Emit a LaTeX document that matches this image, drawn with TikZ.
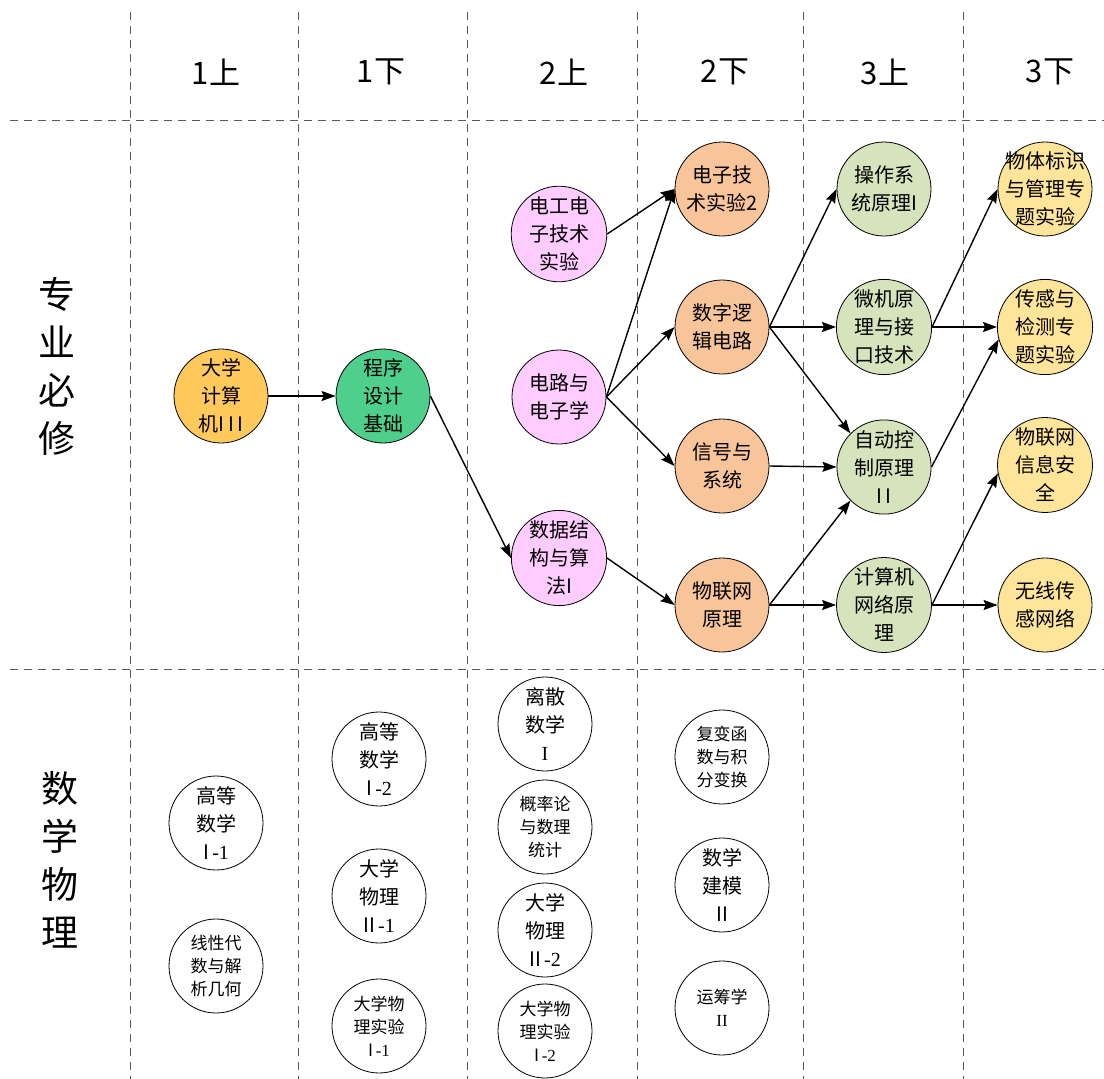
\documentclass[tikz,border=0pt]{standalone}
\usepackage{fontspec}
\setmainfont{Noto Sans CJK SC}
\newfontfamily\serif{Liberation Serif}
\usetikzlibrary{arrows.meta}
\definecolor{cOrange}{HTML}{FFC95C}
\definecolor{cGreen}{HTML}{4ECF8C}
\definecolor{cPink}{HTML}{FFCCFF}
\definecolor{cSalmon}{HTML}{F8C59A}
\definecolor{cSage}{HTML}{D6E4BD}
\definecolor{cYellow}{HTML}{FFE599}
\begin{document}
\begin{tikzpicture}[x=1pt, y=-1pt,
		sep/.style={draw=black!65, line width=0.9pt, dash pattern=on 8pt off 6pt},
		term/.style={font=\fontsize{31}{31}\selectfont},
		area/.style={align=center, font=\fontsize{37}{48}\selectfont},
		course/.style={circle, draw, line width=0.8pt, minimum size=94pt, inner sep=0pt, align=center, font=\fontsize{20}{28}\selectfont},
		small/.style={font=\fontsize{17}{23}\selectfont},
		pre/.style={line width=1.4pt, -{Stealth[length=14pt, width=10pt, inset=2pt]}}]
		\useasboundingbox (0, 0) rectangle (1104, 1079);

		\draw[sep](130, 12) to (130, 1079);
		\draw[sep](298, 12) to (298, 1079);
		\draw[sep](467, 12) to (467, 1079);
		\draw[sep](637, 12) to (637, 1079);
		\draw[sep](803, 12) to (803, 1079);
		\draw[sep](963, 12) to (963, 1079);
		\draw[sep](10, 120) to (1104, 120);
		\draw[sep](10, 669) to (1104, 669);

		\node[term] (s1a) at(216, 72){1上};
		\node[term] (s1b) at(381, 72){1下};
		\node[term] (s2a) at(564, 72){2上};
		\node[term] (s2b) at(725, 72){2下};
		\node[term] (s3a) at(885, 72){3上};
		\node[term] (s3b) at(1050, 72){3下};

		\node[area] (major) at(57, 366){专\\业\\必\\修};
		\node[area] (maths) at(60, 860){数\\学\\物\\理};

		\node[course, fill=cOrange] (dxjsj) at(221, 396){大学\\计算\\机I\,I\,I};
		\node[course, fill=cGreen] (cxsj) at(383, 396){程序\\设计\\基础};

		\node[course, fill=cPink] (dgdz) at(559, 234){电工电\\子技术\\实验};
		\node[course, fill=cPink] (dlydz) at(559, 397){电路与\\电子学};
		\node[course, fill=cPink] (sjjg) at(559, 558){数据结\\构与算\\法I};

		\node[course, fill=cSalmon] (dzjs) at(722, 189){电子技\\术实验2};
		\node[course, fill=cSalmon] (szlj) at(722, 327){数字逻\\辑电路};
		\node[course, fill=cSalmon] (xhyxt) at(722, 466){信号与\\系统};
		\node[course, fill=cSalmon] (wlwyl) at(722, 605){物联网\\原理};

		\node[course, fill=cSage] (czxt) at(884, 189){操作系\\统原理I};
		\node[course, fill=cSage] (wjyl) at(884, 327){微机原\\理与接\\口技术};
		\node[course, fill=cSage] (zdkz) at(884, 467){自动控\\制原理\\I\,I};
		\node[course, fill=cSage] (jswl) at(884, 605){计算机\\网络原\\理};

		\node[course, fill=cYellow, inner sep=-12pt] (wtbs) at(1045, 189){物体标识\\与管理专\\题实验};
		\node[course, fill=cYellow] (cgjc) at(1045, 327){传感与\\检测专\\题实验};
		\node[course, fill=cYellow] (wlwaq) at(1045, 465){物联网\\信息安\\全};
		\node[course, fill=cYellow] (wxcg) at(1045, 605){无线传\\感网络};

		\draw[pre](dxjsj.east) -- (cxsj.west);
		\draw[pre](cxsj.east) -- (sjjg.west);
		\draw[pre](dgdz.east) -- (dzjs.west);
		\draw[pre](dlydz.east) -- (dzjs.west);
		\draw[pre](dlydz.east) -- (szlj.west);
		\draw[pre](dlydz.east) -- (xhyxt.west);
		\draw[pre](sjjg.east) -- (wlwyl.west);
		\draw[pre](szlj.east) -- (czxt.west);
		\draw[pre](szlj.east) -- (wjyl.west);
		\draw[pre](szlj.east) -- (zdkz.135);
		\draw[pre](xhyxt.east) -- (zdkz.west);
		\draw[pre](wlwyl.east) -- (zdkz.225);
		\draw[pre](wlwyl.east) -- (jswl.west);
		\draw[pre](wjyl.east) -- (wtbs.west);
		\draw[pre](wjyl.east) -- (cgjc.west);
		\draw[pre](zdkz.east) -- (cgjc.195);
		\draw[pre](jswl.east) -- (wlwaq.190);
		\draw[pre](jswl.east) -- (wxcg.west);

		\node[course] (gs1) at(216, 823){高等\\数学\\I\,{\serif -1}};
		\node[course, small] (xd) at(216, 966){线性代\\数与解\\析几何};

		\node[course] (gs2) at(379, 759){高等\\数学\\I\,{\serif -2}};
		\node[course] (wl1) at(379, 896){大学\\物理\\II\,{\serif -1}};
		\node[course, small] (sy1) at(379, 1026){大学物\\理实验\\I\,{\serif -1}};

		\node[course] (ls) at(545, 724){离散\\数学\\{\serif I}};
		\node[course, small] (gl) at(545, 827){概率论\\与数理\\统计};
		\node[course] (wl2) at(545, 930){大学\\物理\\II\,{\serif -2}};
		\node[course, small] (sy2) at(545, 1031){大学物\\理实验\\I\,{\serif -2}};

		\node[course, small] (fb) at(722, 757){复变函\\数与积\\分变换};
		\node[course] (jm) at(722, 885){数学\\建模\\II};
		\node[course, small] (yc) at(722, 1008){运筹学\\{\serif II}};
	\end{tikzpicture}
\end{document}
